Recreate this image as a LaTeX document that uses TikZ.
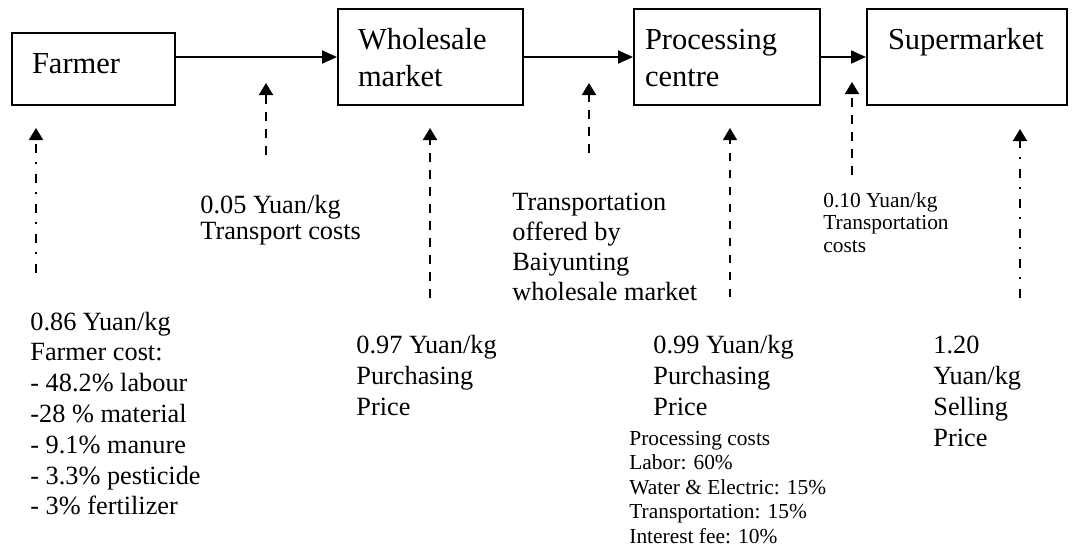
\documentclass[tikz,border=0pt]{standalone}
\usepackage{fontspec}
\setmainfont{Liberation Serif}
\usetikzlibrary{arrows.meta}
\newcommand{\ml}[1]{\begin{tabular}[t]{@{}l@{}}#1\end{tabular}}
\newcommand{\bx}[4]{\parbox[c][#2][t]{#1}{\leftskip=#3\relax\rule{0pt}{20pt}#4\par}}
\tikzset{
  box/.style={draw, line width=1pt, inner sep=0pt, anchor=north west, font=\fontsize{15.25}{18.5}\selectfont},
  flow/.style={line width=1pt, -{Triangle[length=7.5pt,width=6.5pt]}},
  uparrow/.style={line width=1pt, -{Triangle[length=6pt,width=7pt]}},
  dashline/.style={uparrow, dash pattern=on 4.5pt off 4pt},
  thindash/.style={uparrow, line width=0.6pt, dash pattern=on 4pt off 4.5pt},
  dotline/.style={uparrow, dash pattern=on 4.5pt off 5pt on 1pt off 4.5pt},
  lbl/.style={anchor=base west, inner sep=0pt},
  big/.style={font=\fontsize{13.15}{#1}\selectfont},
  small/.style={font=\fontsize{10.7}{#1}\selectfont},
}
\begin{document}
\begin{tikzpicture}[x=0.5pt, y=-0.5pt]
\useasboundingbox (0,0) rectangle (1078,548);

% boxes
\node[box] (farmer) at (11,32) {\bx{81.5pt}{36pt}{10pt}{Farmer}};
\node[box] (wholesale) at (337,8) {\bx{92.5pt}{48pt}{10pt}{Wholesale\\market}};
\node[box] (processing) at (633,8) {\bx{93pt}{48pt}{5.5pt}{Processing\\centre}};
\node[box] (supermarket) at (866,8) {\bx{100pt}{48pt}{10.5pt}{Supermarket}};

% flow arrows
\draw[flow] (farmer.east |- wholesale.west) -- (wholesale.west);
\draw[flow] (wholesale) -- (processing);
\draw[flow] (processing) -- (supermarket);

% vertical arrow end points
\coordinate (a1b) at (36,273);   \coordinate (a1t) at (36,128);
\coordinate (a2b) at (266,155);  \coordinate (a2t) at (266,83);
\coordinate (a3b) at (430,298);  \coordinate (a3t) at (430,128);
\coordinate (a4b) at (589,153);  \coordinate (a4t) at (589,83);
\coordinate (a5b) at (730,297);  \coordinate (a5t) at (730,128);
\coordinate (a6b) at (852,175);  \coordinate (a6t) at (852,82);
\coordinate (a7b) at (1020,298); \coordinate (a7t) at (1020,129);

\draw[dotline] (a1b) -- (a1t);
\draw[dashline] (a2b) -- (a2t);
\draw[dashline] (a3b) -- (a3t);
\draw[dashline] (a4b) -- (a4t);
\draw[thindash] (a5b) -- (a5t);
\draw[dashline] (a6b) -- (a6t);
\draw[dotline] (a7b) -- (a7t);

% labels
\node[lbl, big=13pt] (t05) at (200,213) {\ml{0.05 Yuan/kg\\Transport costs}};
\node[lbl, big=15pt] (toff) at (512,210) {\ml{Transportation\\offered by\\Baiyunting\\wholesale market}};
\node[lbl, small=11.25pt] (t010) at (823,207) {\ml{0.10 Yuan/kg\\Transportation\\costs}};
\node[lbl, big=15.4pt] (tfarm) at (30,330) {\ml{0.86 Yuan/kg\\Farmer cost:\\- 48.2\% labour\\-28 \% material\\- 9.1\% manure\\- 3.3\% pesticide\\- 3\% fertilizer}};
\node[lbl, big=15.5pt] (t097) at (356,353) {\ml{0.97 Yuan/kg\\Purchasing\\Price}};
\node[lbl, big=15.5pt] (t099) at (653,353) {\ml{0.99 Yuan/kg\\Purchasing\\Price}};
\node[lbl, small=12.25pt] (tproc) at (629,445) {\ml{Processing costs\\Labor: 60\%\\Water \& Electric: 15\%\\Transportation: 15\%\\Interest fee: 10\%}};
\node[lbl, big=15.5pt] (t120) at (933,353) {\ml{1.20\\Yuan/kg\\Selling\\Price}};
\end{tikzpicture}
\end{document}
